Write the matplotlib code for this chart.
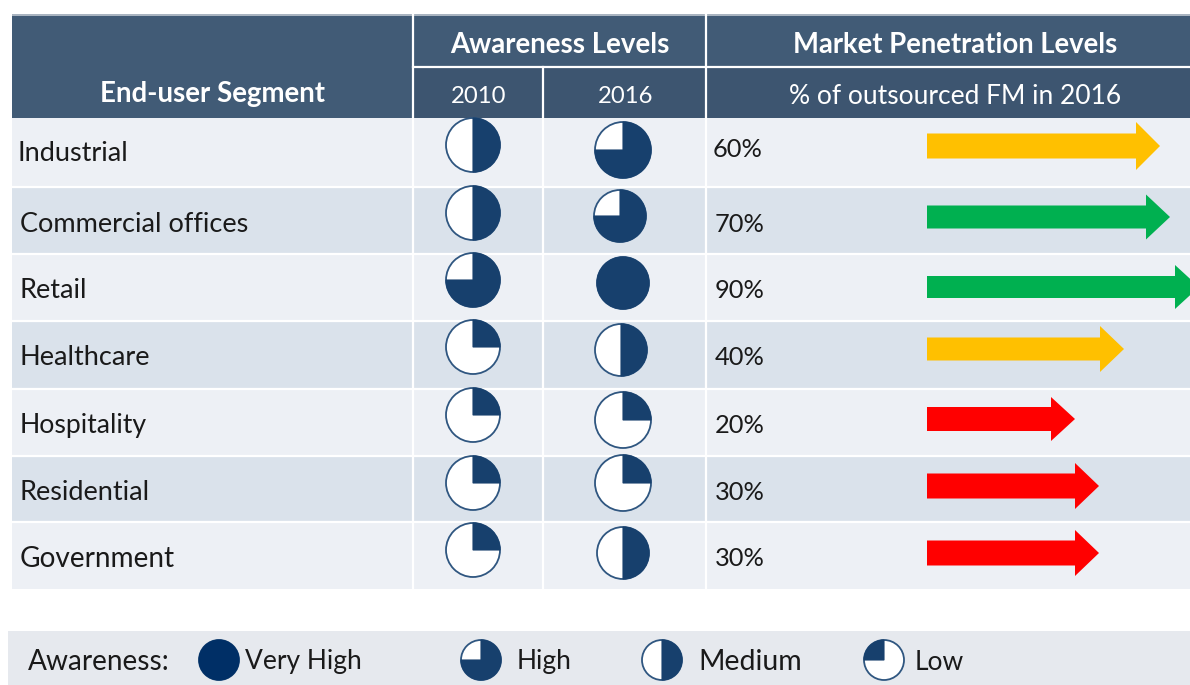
import matplotlib
matplotlib.use('Agg')
import matplotlib.pyplot as plt
from matplotlib.patches import Rectangle, Wedge, Circle

plt.rcParams['font.family'] = ['Lato', 'DejaVu Sans']

# data
segments = ['Industrial', 'Commercial offices', 'Retail', 'Healthcare',
            'Hospitality', 'Residential', 'Government']
awareness_2010 = [0.5, 0.5, 0.75, 0.25, 0.25, 0.25, 0.25]
awareness_2016 = [0.75, 0.75, 1.0, 0.5, 0.25, 0.25, 0.5]
penetration = [60, 70, 90, 40, 20, 30, 30]
arrow_lengths = [233, 243, 272, 197, 148, 172, 172]
arrow_colors = ['#FFC000', '#00B050', '#00B050', '#FFC000', '#FF0000', '#FF0000', '#FF0000']
legend_labels = ['Very High', 'High', 'Medium', 'Low']
legend_levels = [1.0, 0.75, 0.5, 0.25]

# layout in pixels
row_edges = [118, 187, 254, 321, 389, 456, 522, 589]
row_colors = ['#EDF0F5', '#DAE2EB']
label_x = [18, 20, 20, 20, 20, 20, 20]
label_y = [153, 224, 290, 357, 425, 492, 559]
label_fs = [19.5, 19.5, 19.5, 19.5, 19.2, 19.5, 20.2]
pct_x = [713, 715, 715, 715, 715, 715, 715]
pct_y = [149, 224, 290, 357, 425, 492, 559]
pie_2010_y = [145, 213, 280, 347, 415, 483, 550]
pie_2016_x = [623, 620, 623, 621, 623, 623, 623]
pie_2016_y = [150, 216, 283, 350, 420, 483, 553]
pie_2016_r = [28, 26, 26, 26, 28, 28, 26]
arrow_y = [146, 217, 287, 349, 419, 486, 553]
arrow_w = [25, 23, 22, 23, 24, 25, 25]
arrow_hw = [48, 45, 44, 46, 44, 46, 46]
legend_x = [219, 481, 662, 884]
legend_text_x = [245, 517, 698, 915]
legend_fs = [19, 19, 20.5, 19]

NAVY = '#17406D'
HEAD = '#415B76'
HEAD2 = '#3D5570'
TEXT = '#1A1A1A'


def pie(ax, x, y, r, frac, color=NAVY, mirror=False):
    ax.add_patch(Circle((x, y), r, fc='white', ec='#2F5680', lw=1.3, zorder=3))
    if mirror:
        t1, t2 = 90, 90 + 360 * frac
    else:
        t1, t2 = 90 - 360 * frac, 90
    # y axis is inverted, so flip the angles
    ax.add_patch(Wedge((x, y), r, -t2, -t1, fc=color, ec=color, lw=0.8, zorder=4))


fig = plt.figure(figsize=(11.9, 6.85), dpi=100)
ax = fig.add_axes([0, 0, 1, 1])
ax.set_xlim(0, 1190)
ax.set_ylim(685, 0)
ax.axis('off')

# header
ax.add_patch(Rectangle((12, 14), 1178, 104, fc=HEAD, ec='none'))
ax.add_patch(Rectangle((12, 14), 1178, 1.5, fc='#A9B4C0', ec='none'))
ax.add_patch(Rectangle((413, 68), 777, 50, fc=HEAD2, ec='none'))
ax.plot([413, 1190], [67, 67], color='white', lw=1.6, zorder=2)

# body rows
for i in range(len(segments)):
    ax.add_patch(Rectangle((12, row_edges[i]), 1178, row_edges[i + 1] - row_edges[i],
                           fc=row_colors[i % 2], ec='none'))
    if i > 0:
        ax.plot([12, 1190], [row_edges[i]] * 2, color='white', lw=1.6, zorder=2)

# column lines
ax.plot([413, 413], [14, 589], color='white', lw=1.6, zorder=2)
ax.plot([543, 543], [67, 589], color='white', lw=1.6, zorder=2)
ax.plot([706, 706], [14, 589], color='white', lw=1.6, zorder=2)

# header text
ax.text(213, 94, 'End-user Segment', color='white', fontsize=19.9, fontweight='bold', ha='center', va='center')
ax.text(560, 45, 'Awareness Levels', color='white', fontsize=19.9, fontweight='bold', ha='center', va='center')
ax.text(955, 45, 'Market Penetration Levels', color='white', fontsize=19.8, fontweight='bold', ha='center', va='center')
ax.text(479, 96, '2010', color='white', fontsize=17.2, ha='center', va='center')
ax.text(626, 96, '2016', color='white', fontsize=17.2, ha='center', va='center')
ax.text(955, 96, '% of outsourced FM in 2016', color='white', fontsize=19, ha='center', va='center')

# rows
for i, seg in enumerate(segments):
    ax.text(label_x[i], label_y[i], seg, color=TEXT, fontsize=label_fs[i], va='center')
    ax.text(pct_x[i], pct_y[i], f'{penetration[i]}%', color=TEXT, fontsize=18.3, va='center')
    pie(ax, 473, pie_2010_y[i], 27, awareness_2010[i])
    pie(ax, pie_2016_x[i], pie_2016_y[i], pie_2016_r[i], awareness_2016[i])
    ax.arrow(927, arrow_y[i], arrow_lengths[i], 0, width=arrow_w[i], head_width=arrow_hw[i],
             head_length=24, length_includes_head=True, fc=arrow_colors[i], ec='none', zorder=3)

# legend band
ax.add_patch(Rectangle((8, 631), 1182, 54, fc='#E6E9EE', ec='none'))
ax.text(28, 662, 'Awareness:', color=TEXT, fontsize=20.2, va='center')
for i, lab in enumerate(legend_labels):
    col = '#002F66' if legend_levels[i] == 1.0 else NAVY
    pie(ax, legend_x[i], 660, 20, legend_levels[i], color=col, mirror=lab == 'Low')
    ax.text(legend_text_x[i], 662, lab, color=TEXT, fontsize=legend_fs[i], va='center')

fig.savefig('out.png', dpi=100)
